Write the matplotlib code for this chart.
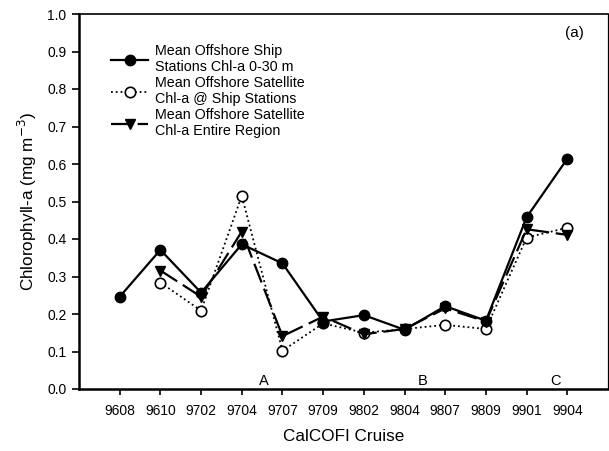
import numpy as np
import matplotlib
matplotlib.use('Agg')
import matplotlib.pyplot as plt

plt.rcParams['font.family'] = ['Liberation Sans', 'DejaVu Sans']

# cruise labels and monthly means (mg m-3)
cruises = ['9608', '9610', '9702', '9704', '9707', '9709',
           '9802', '9804', '9807', '9809', '9901', '9904']
ship = [0.246, 0.371, 0.257, 0.386, 0.335, 0.180,
        0.197, 0.158, 0.221, 0.182, 0.458, 0.614]
sat_ship = [np.nan, 0.284, 0.209, 0.515, 0.102, 0.175,
            0.150, 0.160, 0.171, 0.160, 0.404, 0.430]
sat_region = [np.nan, 0.316, 0.246, 0.420, 0.141, 0.193,
              0.146, 0.160, 0.215, 0.180, 0.426, 0.411]

# period markers under the curves
period_labels = ['A', 'B', 'C']
period_pos = [3.55, 7.45, 10.7]

x = np.arange(len(cruises))

fig = plt.figure(figsize=(6.09, 4.51), dpi=100)
ax = fig.add_axes([79/609, 1 - 389/451, 529/609, 375/451])

ax.plot(x, ship, '-', color='black', lw=1.6, marker='o', ms=7.5,
        mfc='black', mec='black',
        label='Mean Offshore Ship\nStations Chl-a 0-30 m', zorder=4)
ax.plot(x, sat_ship, ':', color='black', lw=1.3, marker='o', ms=7.5,
        mfc='white', mec='black', mew=1.2,
        label='Mean Offshore Satellite\nChl-a @ Ship Stations', zorder=3)
ax.plot(x, sat_region, color='black', lw=1.6, dashes=(9, 3), marker='v', ms=7.5,
        mfc='black', mec='black',
        label='Mean Offshore Satellite\nChl-a Entire Region', zorder=3)

for lab, p in zip(period_labels, period_pos):
    ax.text(p, 0.022, lab, fontsize=10.5, ha='center', va='center')

ax.text(11.17, 0.948, '(a)', fontsize=11, ha='center', va='center')

ax.set_xlim(-1, 12)
ax.set_ylim(0, 1.0)
ax.set_xticks(x)
ax.set_xticklabels(cruises)
ax.set_yticks(np.arange(0, 1.01, 0.1))
ax.set_yticklabels([f'{v:.1f}' for v in np.arange(0, 1.01, 0.1)])
ax.tick_params(axis='both', labelsize=10, direction='out', width=1.2)
ax.tick_params(axis='x', length=4, pad=7)
ax.tick_params(axis='y', length=5, pad=4)

ax.spines['left'].set_linewidth(1.8)
ax.spines['bottom'].set_linewidth(1.8)
ax.spines['top'].set_linewidth(1.2)
ax.spines['right'].set_linewidth(0.9)

ax.set_xlabel('CalCOFI Cruise', fontsize=12.3, labelpad=8)
ax.set_ylabel('Chlorophyll-a (mg m$^{-3}$)', fontsize=12.3, labelpad=6)

leg = ax.legend(loc='upper left', bbox_to_anchor=(0.05, 0.935), frameon=False,
                fontsize=10.3, labelspacing=0.12, handlelength=2.6,
                handletextpad=0.45, borderaxespad=0)

fig.savefig('out.png', dpi=100)
